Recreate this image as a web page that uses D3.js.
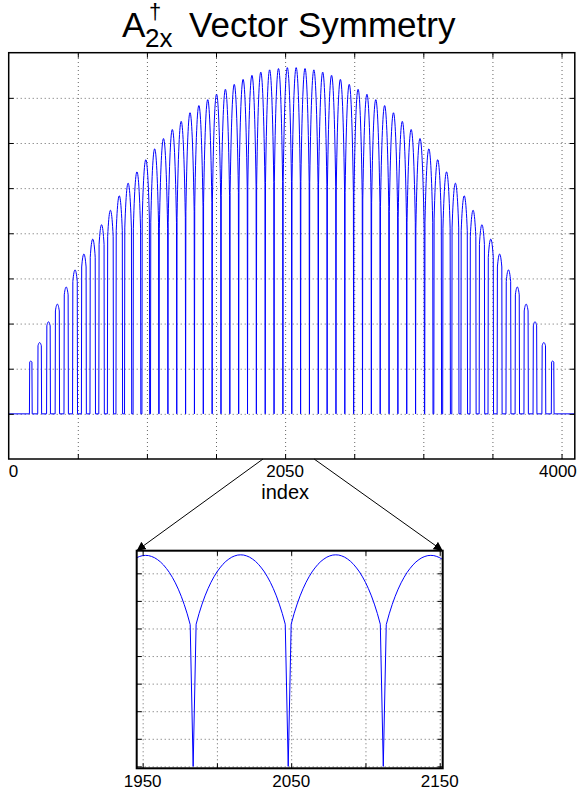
<!DOCTYPE html>
<html>
<head>
<meta charset="utf-8">
<script src="https://cdn.jsdelivr.net/npm/d3@7"></script>
<style>
  html, body { margin: 0; padding: 0; background: #fff; }
  text { font-family: "Liberation Sans", Arial, Helvetica, sans-serif; fill: #000; }
</style>
</head>
<body>
<svg id="chart" width="579" height="791"></svg>
<script>
// lobe centres (index), peak height of each lobe, half width of each lobe (index)
const lobeCenters = [
	160, 224, 288, 352, 416, 480, 544, 608, 672, 736, 800, 864, 928, 992, 1056,
	1120, 1184, 1248, 1312, 1376, 1440, 1504, 1568, 1632, 1696, 1760, 1824, 1888, 1952, 2016,
	2080, 2144, 2208, 2272, 2336, 2400, 2464, 2528, 2592, 2656, 2720, 2784, 2848, 2912, 2976,
	3040, 3104, 3168, 3232, 3296, 3360, 3424, 3488, 3552, 3616, 3680, 3744, 3808, 3872, 3936,
];
const lobePeaks = [
	1.17, 1.58, 2.04, 2.43, 2.81, 3.19, 3.54, 3.87, 4.19, 4.51, 4.83, 5.11, 5.36, 5.63, 5.87,
	6.1, 6.3, 6.48, 6.67, 6.83, 6.96, 7.08, 7.19, 7.3, 7.41, 7.5, 7.57, 7.62, 7.65, 7.67,
	7.67, 7.65, 7.62, 7.57, 7.5, 7.41, 7.3, 7.19, 7.08, 6.96, 6.83, 6.67, 6.48, 6.3, 6.1,
	5.87, 5.63, 5.36, 5.11, 4.83, 4.51, 4.19, 3.87, 3.54, 3.19, 2.81, 2.43, 2.04, 1.58, 1.17,
];
const lobeHalfWidths = [
	8, 12, 12, 14, 14, 16, 16, 18, 18, 20, 22, 24, 26, 26, 28,
	30, 30, 30, 30, 30, 30, 30, 30, 30, 30, 30, 30, 30, 30, 30,
	30, 30, 30, 30, 30, 30, 30, 30, 30, 30, 30, 30, 30, 30, 30,
	28, 26, 26, 24, 22, 20, 18, 18, 16, 16, 14, 14, 12, 12, 8,
];
// shape of one lobe: offset from centre -> fraction of peak
const profileOffsets = [0, 2, 4, 6, 8, 10, 12, 14, 16, 18, 20, 22, 24, 26, 28, 30];
const profileRatios = [1, 0.999, 0.995, 0.989, 0.98, 0.969, 0.955, 0.938, 0.919, 0.896, 0.87, 0.84, 0.806, 0.767, 0.723, 0.672];

const mainXTicks = [500, 1000, 1500, 2000, 2500, 3000, 3500, 4000];
const mainYTicks = [0, 1, 2, 3, 4, 5, 6, 7];
const mainLabelAt = [0, 2000, 4096];
const mainLabelText = ["0", "2050", "4000"];

const insetXTicks = [1950, 2000, 2050, 2100, 2150];
const insetYTicks = [0, 1, 2, 3, 4, 5, 6, 7];
const insetLabelAt = [1950, 2050, 2150];
const insetLabelText = ["1950", "2050", "2150"];
const zoomFrom = [1840, 2210];

// build the signal from the lobes
const series = [[0, 0]];
lobeCenters.forEach((c, k) => {
	const hw = lobeHalfWidths[k];
	const p = lobePeaks[k];
	series.push([c - hw - 2, 0]);
	for (let o = -hw; o <= hw; o += 2) {
		series.push([c + o, p * profileRatios[profileOffsets.indexOf(Math.abs(o))]]);
	}
	series.push([c + hw + 2, 0]);
});
series.push([4096, 0]);

const svg = d3.select("#chart");

svg.append("defs")
	.append("marker")
	.attr("id", "arrow")
	.attr("viewBox", "0 0 10 10")
	.attr("refX", 10)
	.attr("refY", 5)
	.attr("markerWidth", 9)
	.attr("markerHeight", 9)
	.attr("markerUnits", "userSpaceOnUse")
	.attr("orient", "auto")
	.append("path")
	.attr("d", "M0,0L10,5L0,10z")
	.attr("fill", "#000");

function drawPanel(box, xDomain, yDomain, xTicks, yTicks, id, lw) {
	const x = d3.scaleLinear().domain(xDomain).range([box.left, box.right]);
	const y = d3.scaleLinear().domain(yDomain).range([box.bottom, box.top]);
	const h = box.bottom - box.top;
	const w = box.right - box.left;
	const g = svg.append("g");

	// dotted grid
	const gx = g.append("g")
		.attr("transform", `translate(0,${box.bottom})`)
		.call(d3.axisBottom(x).tickValues(xTicks).tickSize(-h).tickFormat(""));
	const gy = g.append("g")
		.attr("transform", `translate(${box.left},0)`)
		.call(d3.axisLeft(y).tickValues(yTicks).tickSize(-w).tickFormat(""));
	[gx, gy].forEach((a) => {
		a.select(".domain").remove();
		a.selectAll("line").attr("stroke", "#666").attr("stroke-dasharray", "1,3");
	});

	// data
	g.append("clipPath").attr("id", id)
		.append("rect")
		.attr("x", box.left).attr("y", box.top)
		.attr("width", w).attr("height", h);
	const line = d3.line().x((d) => x(d[0])).y((d) => y(d[1]));
	g.append("path")
		.datum(series)
		.attr("clip-path", `url(#${id})`)
		.attr("fill", "none")
		.attr("stroke", "#0000ff")
		.attr("stroke-width", 1)
		.attr("stroke-linejoin", "round")
		.attr("d", line);

	// inward ticks on every side
	const tk = 5;
	const axes = [
		[d3.axisBottom(x).tickValues(xTicks), `translate(0,${box.bottom})`],
		[d3.axisTop(x).tickValues(xTicks), `translate(0,${box.top})`],
		[d3.axisLeft(y).tickValues(yTicks), `translate(${box.left},0)`],
		[d3.axisRight(y).tickValues(yTicks), `translate(${box.right},0)`],
	];
	axes.forEach(([ax, tr]) => {
		const a = g.append("g").attr("transform", tr).call(ax.tickSize(-tk).tickFormat(""));
		a.select(".domain").remove();
		a.selectAll("line").attr("stroke", "#000").attr("stroke-width", 1);
	});

	g.append("rect")
		.attr("x", box.left).attr("y", box.top)
		.attr("width", w).attr("height", h)
		.attr("fill", "none")
		.attr("stroke", "#000")
		.attr("stroke-width", lw);
	return { x, y };
}

const mainBox = { left: 8.7, right: 574.8, top: 52.7, bottom: 459 };
const insetBox = { left: 136.7, right: 442.7, top: 550.7, bottom: 768.3 };

const m = drawPanel(mainBox, [0, 4096], [-1, 8], mainXTicks, mainYTicks, "clipMain", 1.5);
const z = drawPanel(insetBox, [1946, 2152], [-0.07, 7.82], insetXTicks, insetYTicks, "clipInset", 2);

// tick labels
svg.append("g")
	.selectAll("text")
	.data(mainLabelText)
	.join("text")
	.attr("x", (d, i) => m.x(mainLabelAt[i]) + (i === mainLabelText.length - 1 ? 2 : 0))
	.attr("y", 477)
	.attr("text-anchor", (d, i) => (i === 0 ? "start" : i === mainLabelText.length - 1 ? "end" : "middle"))
	.attr("font-size", 17)
	.text((d) => d);

svg.append("g")
	.selectAll("text")
	.data(insetLabelText)
	.join("text")
	.attr("x", (d, i) => z.x(insetLabelAt[i]))
	.attr("y", 787)
	.attr("text-anchor", "middle")
	.attr("font-size", 17)
	.text((d) => d);

svg.append("text")
	.attr("x", m.x(2000))
	.attr("y", 499)
	.attr("text-anchor", "middle")
	.attr("font-size", 20)
	.text("index");

// zoom arrows
const corners = [
	[insetBox.left, insetBox.top],
	[insetBox.right, insetBox.top],
];
svg.append("g")
	.selectAll("line")
	.data(zoomFrom)
	.join("line")
	.attr("x1", (d) => m.x(d))
	.attr("y1", mainBox.bottom)
	.attr("x2", (d, i) => corners[i][0])
	.attr("y2", (d, i) => corners[i][1])
	.attr("stroke", "#000")
	.attr("stroke-width", 1)
	.attr("marker-end", "url(#arrow)");

// title
const title = svg.append("g");
title.append("text").attr("x", 122).attr("y", 37).attr("font-size", 35).text("A");
title.append("text").attr("x", 149).attr("y", 19).attr("font-size", 22).text("\u2020");
title.append("text").attr("x", 145).attr("y", 47).attr("font-size", 26).text("2x");
title.append("text").attr("x", 189).attr("y", 37).attr("font-size", 35).text("Vector Symmetry");
</script>
</body>
</html>
